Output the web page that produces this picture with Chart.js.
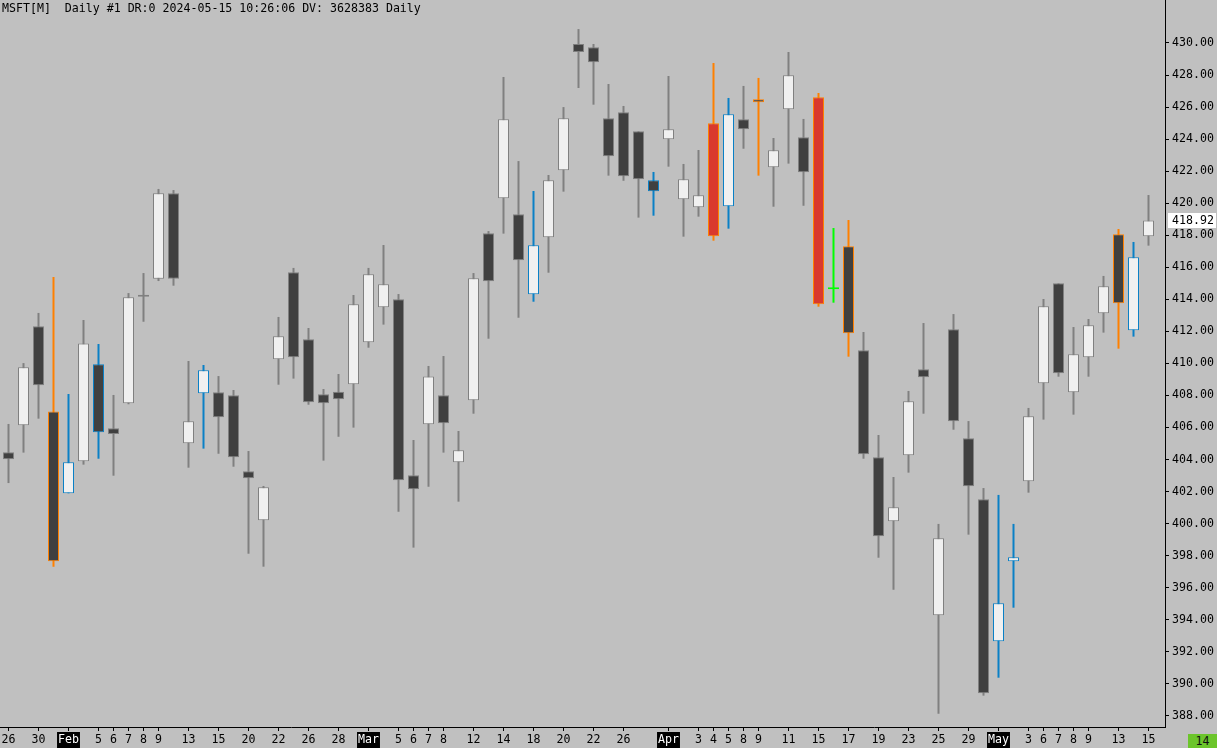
<!DOCTYPE html>
<html><head><meta charset="utf-8">
<script src="https://cdn.jsdelivr.net/npm/chart.js@4.4.1/dist/chart.umd.min.js"></script>
<style>
html,body{margin:0;padding:0;background:#c0c0c0;}
#wrap{position:relative;width:1217px;height:748px;background:#c0c0c0;overflow:hidden;}
#hdr{position:absolute;left:2px;top:1px;font:11.6px 'DejaVu Sans Mono',monospace;color:#000;white-space:pre;}
#box14{position:absolute;left:1188px;top:734px;width:29px;height:14px;background:#6cc52b;font:11.6px 'DejaVu Sans Mono',monospace;color:#111;text-align:center;line-height:14px;}
canvas{position:absolute;left:0;top:0;}
</style></head><body>
<div id="wrap"><canvas id="c" width="1217" height="748"></canvas><div id="hdr">MSFT[M]  Daily #1 DR:0 2024-05-15 10:26:06 DV: 3628383 Daily</div><div id="box14">14</div></div>
<script>
const dates = ['2024-01-26','2024-01-29','2024-01-30','2024-01-31','2024-02-01','2024-02-02','2024-02-05','2024-02-06','2024-02-07','2024-02-08','2024-02-09','2024-02-12','2024-02-13','2024-02-14','2024-02-15','2024-02-16','2024-02-20','2024-02-21','2024-02-22','2024-02-23','2024-02-26','2024-02-27','2024-02-28','2024-02-29','2024-03-01','2024-03-04','2024-03-05','2024-03-06','2024-03-07','2024-03-08','2024-03-11','2024-03-12','2024-03-13','2024-03-14','2024-03-15','2024-03-18','2024-03-19','2024-03-20','2024-03-21','2024-03-22','2024-03-25','2024-03-26','2024-03-27','2024-03-28','2024-04-01','2024-04-02','2024-04-03','2024-04-04','2024-04-05','2024-04-08','2024-04-09','2024-04-10','2024-04-11','2024-04-12','2024-04-15','2024-04-16','2024-04-17','2024-04-18','2024-04-19','2024-04-22','2024-04-23','2024-04-24','2024-04-25','2024-04-26','2024-04-29','2024-04-30','2024-05-01','2024-05-02','2024-05-03','2024-05-06','2024-05-07','2024-05-08','2024-05-09','2024-05-10','2024-05-13','2024-05-14','2024-05-15'];
const tickLabels = ['26','','30','','Feb','','5','6','7','8','9','','13','','15','','20','','22','','26','','28','','Mar','','5','6','7','8','','12','','14','','18','','20','','22','','26','','','Apr','','3','4','5','8','9','','11','','15','','17','','19','','23','','25','','29','','May','','3','6','7','8','9','','13','','15'];
const monthLabels = ['Feb','Mar','Apr','May'];
const open  = [404.45,406.14,412.32,406.99,401.89,403.89,409.94,405.95,407.51,414.16,415.29,420.62,405.01,408.13,408.20,408.01,403.26,400.21,410.26,415.69,411.50,408.07,408.23,408.70,411.32,413.50,414.00,403.02,406.20,408.01,403.83,407.70,418.12,420.31,419.31,414.31,417.87,422.05,429.94,429.73,425.30,425.67,424.49,421.43,423.99,420.24,419.74,424.99,419.81,425.24,426.49,422.24,425.86,424.11,426.61,414.63,417.31,410.82,404.14,400.14,404.26,409.63,394.28,412.13,405.32,401.52,392.65,397.65,402.64,408.76,415.00,408.20,410.38,413.13,418.06,412.07,417.93];
const high  = [406.22,410.02,413.15,415.39,408.09,412.71,411.21,408.03,414.39,415.64,420.89,420.82,410.15,409.90,409.21,408.34,404.53,402.35,412.90,415.96,412.21,408.40,409.34,414.27,415.96,417.39,414.33,405.22,409.84,410.46,405.78,415.64,418.26,427.88,422.63,420.76,421.76,426.00,430.87,429.94,427.44,426.07,424.49,421.95,427.94,422.45,423.32,428.75,426.57,427.32,427.82,424.07,429.44,425.26,426.88,418.45,418.95,411.96,405.53,402.91,408.28,412.52,399.98,413.08,406.40,402.22,401.79,399.98,407.22,414.02,415.00,412.27,412.77,415.46,418.39,417.58,420.51];
const low   = [402.53,404.43,406.55,397.31,401.89,403.68,404.05,402.99,407.45,412.60,415.14,414.85,403.49,404.68,404.36,403.55,398.12,397.31,408.67,409.05,407.42,403.93,405.42,405.99,410.98,412.42,400.74,398.50,402.30,404.43,401.37,406.86,411.54,418.10,412.85,413.85,415.66,420.72,427.19,426.15,421.72,421.40,419.10,419.22,422.28,417.91,419.16,417.66,418.41,423.40,421.72,419.78,422.47,419.84,413.54,413.79,410.42,404.05,397.87,395.87,403.18,406.86,388.13,405.86,399.31,389.26,390.38,394.75,401.93,406.49,409.17,406.80,409.17,411.92,410.92,411.67,417.35];
const close = [404.01,409.76,408.63,397.65,403.83,411.25,405.70,405.59,414.13,414.16,420.62,415.29,406.39,409.57,406.64,404.14,402.83,402.27,411.69,410.38,407.57,407.51,407.76,413.69,415.56,414.94,402.70,402.14,409.19,406.26,404.58,415.31,415.13,425.24,416.44,417.37,421.43,425.30,429.44,428.80,422.93,421.68,421.49,420.74,424.61,421.49,420.49,417.93,425.55,424.61,426.30,423.30,427.98,421.93,413.69,414.63,411.88,404.33,399.21,401.02,407.63,409.13,399.08,406.39,402.33,389.41,395.03,397.90,406.70,413.56,409.38,410.57,412.38,414.81,413.75,416.62,418.92];
// candle marker: n normal, b blue, o orange, r red, g green
const marker = ['n','n','n','o','b','n','b','n','n','n','n','n','n','b','n','n','n','n','n','n','n','n','n','n','n','n','n','n','n','n','n','n','n','n','n','b','n','n','n','n','n','n','n','b','n','n','n','r','b','n','o','n','n','n','r','g','o','n','n','n','n','n','n','n','n','n','b','b','n','n','n','n','n','n','o','b','n'];
const yTicks = [388,390,392,394,396,398,400,402,404,406,408,410,412,414,416,418,420,422,424,426,428,430];

const lineColor = {n:'#808080', b:'#0a80c6', o:'#ff8000', r:'#ff8000', g:'#00ff00'};
const fillUp = '#f0f0f0', fillDown = '#404040', fillRed = '#d9392e';

const wickData = dates.map((d,i)=>({x:i, y:[low[i], high[i]]}));
const bodyData = dates.map((d,i)=>({x:i, y:[Math.min(open[i],close[i]), Math.max(open[i],close[i])]}));
const wickColors = marker.map(m=>lineColor[m]);
const bodyBorder = marker.map(m=>lineColor[m]);
const bodyFill = marker.map((m,i)=> m==='r' ? fillRed : (m==='g' ? lineColor.g : (close[i] >= open[i] ? fillUp : fillDown)));

const FONT = {family:"'DejaVu Sans Mono', monospace", size:11.6};

const lastPricePlugin = {
  id:'lastPrice',
  afterDraw(chart){
    const ys = chart.scales.y, ctx = chart.ctx;
    const v = close[close.length-1];
    const y = Math.round(ys.getPixelForValue(v));
    ctx.save();
    ctx.fillStyle = '#ffffff';
    ctx.fillRect(ys.left + 3, y - 8, 48, 15);
    ctx.fillStyle = '#000000';
    ctx.font = "11.6px 'DejaVu Sans Mono', monospace";
    ctx.textBaseline = 'middle';
    ctx.textAlign = 'left';
    ctx.fillText(v.toFixed(2), ys.left + 7, y);
    ctx.restore();
  }
};

new Chart(document.getElementById('c'), {
  type:'bar',
  data:{
    datasets:[
      {label:'body', data:bodyData, backgroundColor:bodyFill, borderColor:bodyBorder, borderWidth:1, borderSkipped:false, barThickness:11, minBarLength:2, grouped:false, order:0, inflateAmount:0},
      {label:'wick', data:wickData, backgroundColor:wickColors, borderWidth:0, barThickness:2, grouped:false, order:1, inflateAmount:0}
    ]
  },
  options:{
    responsive:false,
    animation:false,
    events:[],
    layout:{padding:0},
    plugins:{legend:{display:false}, tooltip:{enabled:false}, title:{display:false}},
    scales:{
      x:{
        type:'linear', offset:false,
        min:-8.5/15, max:(1165-8.5)/15,
        grid:{display:true, drawOnChartArea:false, drawTicks:true, tickLength:4, tickColor:'#000', offset:false},
        border:{display:true, color:'#000', width:1},
        afterBuildTicks(scale){ scale.ticks = tickLabels.map((t,i)=>({value:i, t})).filter(o=>o.t!=='').map(o=>({value:o.value})); },
        afterFit(scale){ scale.height = 21; scale.paddingLeft = 0; scale.paddingRight = 0; },
        ticks:{
          autoSkip:false, maxRotation:0, minRotation:0, padding:2,
          font:FONT,
          color:(ctx)=> monthLabels.includes(tickLabels[ctx.tick.value]) ? '#ffffff' : '#000000',
          showLabelBackdrop:(ctx)=> monthLabels.includes(tickLabels[ctx.tick.value]),
          backdropColor:'#000000',
          backdropPadding:{left:1,right:1,top:1,bottom:2},
          callback:(v)=> tickLabels[v]
        }
      },
      y:{
        type:'linear', position:'right', beginAtZero:false,
        min:430 - 684/16.02, max:430 + 43/16.02,
        grid:{display:true, drawOnChartArea:false, drawTicks:true, tickLength:4, tickColor:'#000'},
        border:{display:true, color:'#000', width:1},
        afterBuildTicks(scale){ scale.ticks = yTicks.map(v=>({value:v})); },
        afterFit(scale){ scale.width = 52; scale.paddingTop = 0; scale.paddingBottom = 0; },
        ticks:{padding:3, font:FONT, color:'#000', callback:(v)=> Number(v).toFixed(2)}
      }
    }
  },
  plugins:[lastPricePlugin]
});
</script>
</body></html>
